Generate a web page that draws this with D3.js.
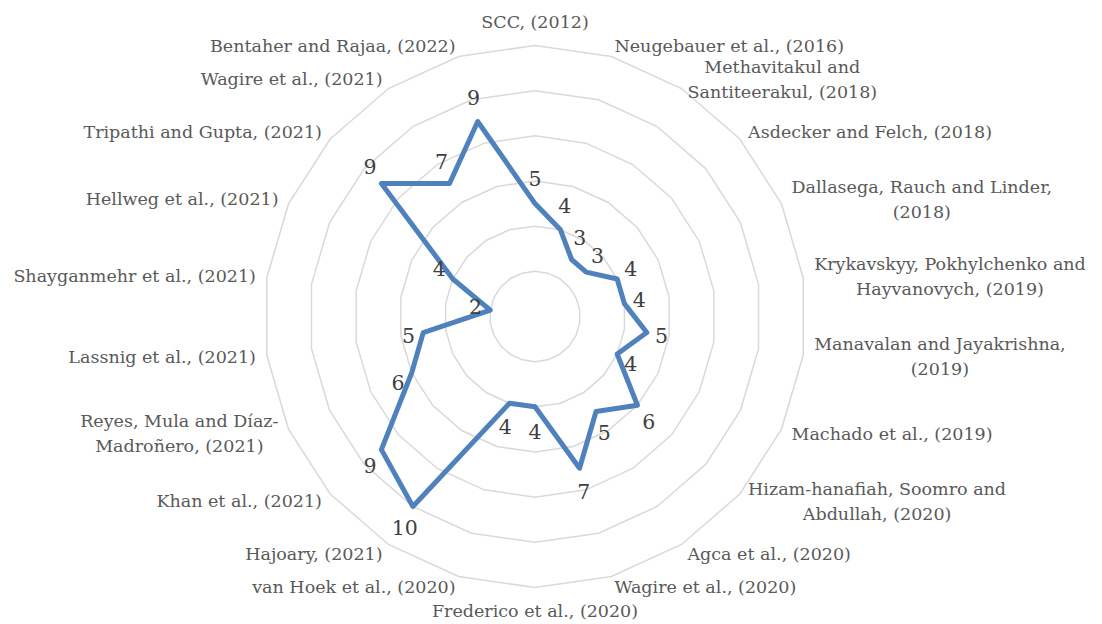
<!DOCTYPE html>
<html>
<head>
<meta charset="utf-8">
<script src="https://cdn.jsdelivr.net/npm/d3@7"></script>
<style>
  html, body { margin: 0; padding: 0; background: #ffffff; }
  svg { display: block; }
</style>
</head>
<body>
<svg id="chart" width="1102" height="624"></svg>
<script>
// ---- data ----
const categories = [
  "SCC, (2012)",
  "Neugebauer et al., (2016)",
  "Methavitakul and\nSantiteerakul, (2018)",
  "Asdecker and Felch, (2018)",
  "Dallasega, Rauch and Linder,\n(2018)",
  "Krykavskyy, Pokhylchenko and\nHayvanovych, (2019)",
  "Manavalan and Jayakrishna,\n(2019)",
  "Machado et al., (2019)",
  "Hizam-hanafiah, Soomro and\nAbdullah, (2020)",
  "Agca et al., (2020)",
  "Wagire et al., (2020)",
  "Frederico et al., (2020)",
  "van Hoek et al., (2020)",
  "Hajoary, (2021)",
  "Khan et al., (2021)",
  "Reyes, Mula and Díaz-\nMadroñero, (2021)",
  "Lassnig et al., (2021)",
  "Shayganmehr et al., (2021)",
  "Hellweg et al., (2021)",
  "Tripathi and Gupta, (2021)",
  "Wagire et al., (2021)",
  "Bentaher and Rajaa, (2022)"
];
const values = [5, 4, 3, 3, 4, 4, 5, 4, 6, 5, 7, 4, 4, 10, 9, 6, 5, 2, 4, 9, 7, 9];
const ringTicks = [2, 4, 6, 8, 10, 12];
const axisMax = 12;

// ---- layout ----
const cx = 535, cy = 316.5, R = 271;
const svg = d3.select("#chart");
const g = svg.append("g").attr("transform", `translate(${cx},${cy})`);

const n = categories.length;
const angle = d3.scaleLinear().domain([0, n]).range([0, 2 * Math.PI]);
const rScale = d3.scaleLinear().domain([0, axisMax]).range([0, R]);

const px = (a, r) => r * Math.sin(a);
const py = (a, r) => -r * Math.cos(a);

// grid rings (polygons)
const ringLine = d3.lineRadial()
  .angle((d, i) => angle(i))
  .radius(d => rScale(d))
  .curve(d3.curveLinearClosed);

g.append("g").attr("class", "grid")
  .selectAll("path")
  .data(ringTicks)
  .join("path")
  .attr("d", t => ringLine(d3.range(n).map(() => t)))
  .attr("fill", "none")
  .attr("stroke", "#d9d9d9")
  .attr("stroke-width", 1.5);

// series line
const seriesLine = d3.lineRadial()
  .angle((d, i) => angle(i))
  .radius(d => rScale(d))
  .curve(d3.curveLinearClosed);

g.append("path")
  .datum(values)
  .attr("d", seriesLine)
  .attr("fill", "none")
  .attr("stroke", "#4f81bd")
  .attr("stroke-width", 5)
  .attr("stroke-linejoin", "round");

// data labels
const labA = 15, labB = 25;
g.append("g").attr("class", "data-labels")
  .selectAll("text")
  .data(values)
  .join("text")
  .attr("x", (d, i) => px(angle(i), rScale(d)) + Math.sin(angle(i)) * labA)
  .attr("y", (d, i) => py(angle(i), rScale(d)) - Math.cos(angle(i)) * labB)
  .attr("text-anchor", "middle")
  .attr("dominant-baseline", "central")
  .attr("font-family", "'DejaVu Serif', serif")
  .attr("font-size", 20.5)
  .attr("fill", "#404040")
  .text(d => d);

// category labels
const catR = R + 11;
const lineH = 25;
const catG = g.append("g").attr("class", "cat-labels");
categories.forEach((c, i) => {
  const a = angle(i);
  const s = Math.sin(a), co = Math.cos(a);
  const ax = px(a, catR), ay = py(a, catR);
  const lines = c.split("\n");
  const blockH = lines.length * lineH;
  let centerY = ay;
  if (Math.abs(s) < 0.01) centerY = ay - Math.sign(co) * blockH / 2;
  const t = catG.append("text")
    .attr("font-family", "'DejaVu Serif', serif")
    .attr("font-size", 17.5)
    .attr("fill", "#595959");
  const tspans = lines.map((l, k) => t.append("tspan")
    .attr("text-anchor", "middle")
    .attr("dominant-baseline", "central")
    .attr("y", centerY - blockH / 2 + lineH / 2 + k * lineH)
    .text(l));
  const widths = tspans.map(ts => ts.node().getComputedTextLength());
  const bw = d3.max(widths);
  let midX;
  if (s > 0.01) midX = ax + bw / 2;
  else if (s < -0.01) midX = ax - bw / 2;
  else midX = ax;
  tspans.forEach(ts => ts.attr("x", midX));
});
</script>
</body>
</html>
